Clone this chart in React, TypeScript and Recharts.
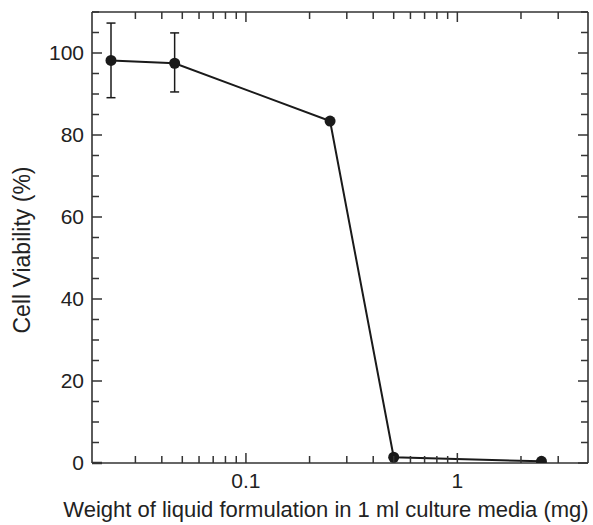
import { LineChart, Line, XAxis, YAxis, ErrorBar, Label } from 'recharts';

// dose (mg per 1 ml culture media) vs. cell viability
const doses = [0.023, 0.046, 0.25, 0.5, 2.5];
const viability = [98.2, 97.5, 83.4, 1.4, 0.4];
const errLow = [9.1, 7.0, 0, 0, 0];
const errHigh = [9.1, 7.4, 0, 0, 0];

const xTicks = [0.03, 0.04, 0.05, 0.06, 0.07, 0.08, 0.09, 0.1, 0.2, 0.3, 0.4, 0.5, 0.6, 0.7, 0.8, 0.9, 1, 2, 3];
const xLabeled = [0.1, 1];
const yTicks = [0, 5, 10, 15, 20, 25, 30, 35, 40, 45, 50, 55, 60, 65, 70, 75, 80, 85, 90, 95, 100, 105, 110];
const yLabeled = [0, 20, 40, 60, 80, 100];

const data = doses.map((x, i) => ({
  x,
  v: viability[i],
  err: [errLow[i], errHigh[i]],
}));

const FONT = '"Liberation Sans", Arial, Helvetica, sans-serif';
const INK = '#1a1a1a';
const FRAME = '#333';

function LeftTick({ x, y, payload }: any) {
  const v = payload.value;
  const major = yLabeled.includes(v);
  const ax = x + 8;
  return (
    <g>
      <line x1={ax} x2={ax + (major ? 10 : 7)} y1={y} y2={y} stroke={FRAME} strokeWidth={major && v === 0 ? 2.5 : 1.5} />
      {major && (
        <text x={x} y={y} dy="0.355em" textAnchor="end" fontSize={21} fontFamily={FONT} fill="#222">
          {v}
        </text>
      )}
    </g>
  );
}

function RightTick({ x, y, payload }: any) {
  const major = yLabeled.includes(payload.value);
  return <line x1={x} x2={x - (major ? 10 : 7)} y1={y} y2={y} stroke={FRAME} strokeWidth={1.5} />;
}

function BottomTick({ x, y, payload }: any) {
  const v = payload.value;
  const major = xLabeled.includes(v);
  const ay = y - 10;
  return (
    <g>
      <line x1={x} x2={x} y1={ay} y2={ay - (major ? 10 : 7)} stroke={FRAME} strokeWidth={1.5} />
      {major && (
        <text x={x} y={y} dy="0.71em" textAnchor="middle" fontSize={21} fontFamily={FONT} fill="#222">
          {String(v)}
        </text>
      )}
    </g>
  );
}

function TopTick({ x, y, payload }: any) {
  const major = xLabeled.includes(payload.value);
  return <line x1={x} x2={x} y1={y} y2={y + (major ? 10 : 7)} stroke={FRAME} strokeWidth={1.5} />;
}

export default function App() {
  return (
    <div style={{ position: 'absolute', left: 0, top: 0 }}>
      <LineChart width={593} height={525} data={data} margin={{ top: 0, right: 0, bottom: 0, left: 0 }}>
        <XAxis
          xAxisId="b"
          dataKey="x"
          type="number"
          scale="log"
          domain={[0.0187, 4.15]}
          allowDataOverflow
          ticks={xTicks}
          interval={0}
          height={62}
          tickSize={0}
          tickMargin={10}
          tickLine={false}
          tick={<BottomTick />}
          axisLine={{ stroke: FRAME, strokeWidth: 1.6 }}
        >
          <Label
            content={() => (
              <text x={326} y={517} textAnchor="middle" fontSize={22} fontFamily={FONT} fill="#222">
                Weight of liquid formulation in 1 ml culture media (mg)
              </text>
            )}
          />
        </XAxis>
        <XAxis
          xAxisId="t"
          dataKey="x"
          type="number"
          scale="log"
          orientation="top"
          domain={[0.0187, 4.15]}
          allowDataOverflow
          ticks={xTicks}
          interval={0}
          height={12}
          tickSize={0}
          tickMargin={0}
          tickLine={false}
          tick={<TopTick />}
          axisLine={{ stroke: FRAME, strokeWidth: 1.6 }}
        />
        <YAxis
          yAxisId="l"
          type="number"
          domain={[0, 110]}
          allowDataOverflow
          ticks={yTicks}
          interval={0}
          width={92}
          tickSize={0}
          tickMargin={8}
          tickLine={false}
          tick={<LeftTick />}
          axisLine={{ stroke: FRAME, strokeWidth: 1.6 }}
        >
          <Label
            content={() => (
              <text
                x={22}
                y={250}
                transform="rotate(-90 22 250)"
                textAnchor="middle"
                dominantBaseline="central"
                fontSize={23}
                fontFamily={FONT}
                fill="#222"
              >
                Cell Viability (%)
              </text>
            )}
          />
        </YAxis>
        <YAxis
          yAxisId="r"
          type="number"
          orientation="right"
          domain={[0, 110]}
          allowDataOverflow
          ticks={yTicks}
          interval={0}
          width={5}
          tickSize={0}
          tickMargin={0}
          tickLine={false}
          tick={<RightTick />}
          axisLine={{ stroke: FRAME, strokeWidth: 1.6 }}
        />
        <Line
          xAxisId="t"
          yAxisId="r"
          dataKey="v"
          stroke="none"
          dot={false}
          activeDot={false}
          isAnimationActive={false}
        />
        <Line
          xAxisId="b"
          yAxisId="l"
          dataKey="v"
          type="linear"
          stroke={INK}
          strokeWidth={2}
          dot={{ r: 5.5, fill: INK, stroke: INK, strokeWidth: 0 }}
          activeDot={false}
          isAnimationActive={false}
        >
          <ErrorBar dataKey="err" width={4.5} stroke={INK} strokeWidth={1.5} direction="y" />
        </Line>
      </LineChart>
    </div>
  );
}
